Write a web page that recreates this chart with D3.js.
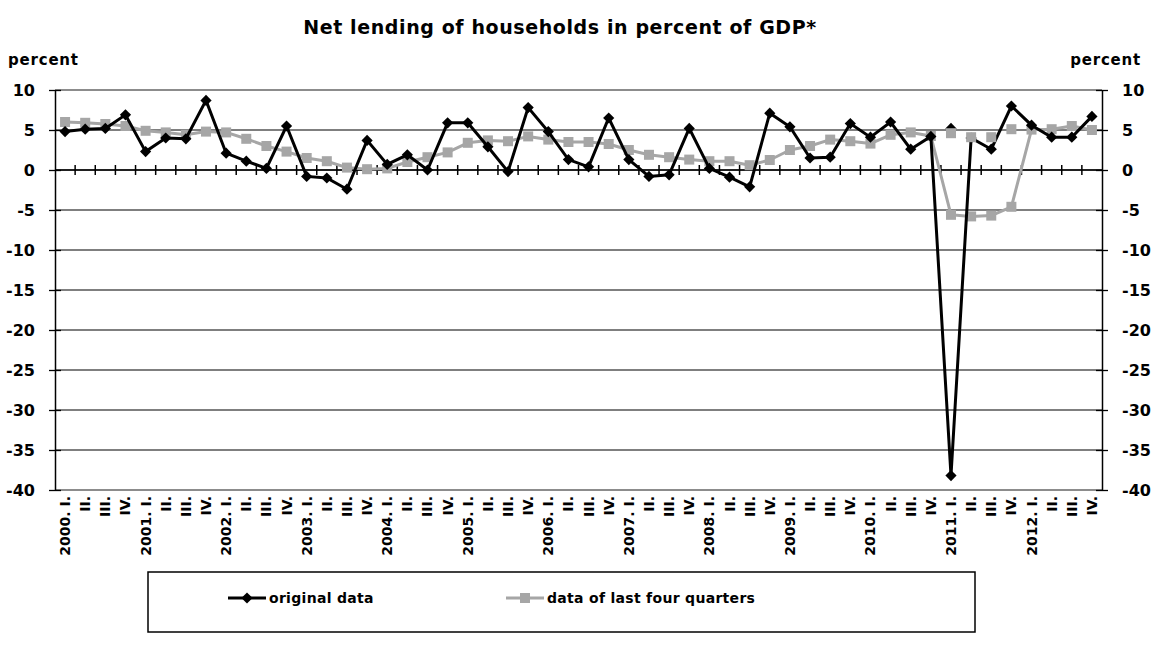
<!DOCTYPE html>
<html>
<head>
<meta charset="utf-8">
<script src="https://cdn.jsdelivr.net/npm/d3@7"></script>
<style>
  html, body { margin: 0; padding: 0; background: #fff; }
  svg { display: block; font-family: "DejaVu Sans", Verdana, sans-serif; font-weight: bold; }
</style>
</head>
<body>
<svg id="chart" width="1155" height="664"></svg>
<script>
// Quarters 2000 Q1 – 2012 Q4
const years = d3.range(2000, 2013);
const quarterNames = ["I.", "II.", "III.", "IV."];
const categories = years.flatMap(y => quarterNames.map((q, i) => i === 0 ? `${y}. ${q}` : q));

// Net lending of households, % of GDP, quarterly
const originalData = [
  4.8, 5.1, 5.2, 6.9, 2.3, 4.0, 3.9, 8.7,
  2.1, 1.1, 0.2, 5.5, -0.8, -1.0, -2.4, 3.7,
  0.7, 1.9, 0.0, 5.9, 5.9, 2.9, -0.2, 7.8,
  4.8, 1.3, 0.4, 6.5, 1.3, -0.8, -0.6, 5.2,
  0.2, -0.9, -2.1, 7.1, 5.4, 1.5, 1.6, 5.8,
  4.1, 6.0, 2.6, 4.2, -38.2, 4.0, 2.6, 8.0,
  5.6, 4.1, 4.1, 6.7
];
// Rolling four-quarter figures
const lastFourQuarters = [
  6.0, 5.9, 5.75, 5.5, 4.9, 4.7, 4.4, 4.8,
  4.7, 3.9, 3.0, 2.3, 1.5, 1.1, 0.3, 0.1,
  0.2, 1.0, 1.6, 2.2, 3.4, 3.7, 3.6, 4.2,
  3.8, 3.5, 3.5, 3.25, 2.5, 1.9, 1.6, 1.3,
  1.1, 1.1, 0.6, 1.25, 2.5, 3.0, 3.8, 3.6,
  3.3, 4.4, 4.7, 4.25, -5.6, -5.8, -5.7, -4.6,
  5.05, 5.1, 5.5, 5.0
];
// Figures without the 2011 one-off pension transfer (markers only)
const adjustedOriginal = [{ q: 44, v: 5.2 }];
const adjustedFourQuarters = [{ q: 44, v: 4.6 }, { q: 45, v: 4.1 }, { q: 46, v: 4.1 }, { q: 47, v: 5.1 }];

const yTicks = d3.range(-40, 11, 5);

const svg = d3.select("#chart");
const plotLeft = 55, plotRight = 1102, plotTop = 90, plotBottom = 490;

const x = d3.scaleBand().domain(d3.range(categories.length)).range([plotLeft, plotRight]);
const cx = i => x(i) + x.bandwidth() / 2;
const y = d3.scaleLinear().domain([-40, 10]).range([plotBottom, plotTop]);

// Title and unit labels
svg.append("text").attr("x", 560).attr("y", 34).attr("text-anchor", "middle")
  .attr("font-size", 19).attr("letter-spacing", 0.6).text("Net lending of households in percent of GDP*");
svg.append("text").attr("x", 8).attr("y", 65).attr("font-size", 15).attr("letter-spacing", 0.8).text("percent");
svg.append("text").attr("x", 1141).attr("y", 65).attr("text-anchor", "end").attr("font-size", 15).attr("letter-spacing", 0.8).text("percent");

// Horizontal gridlines
svg.append("g").selectAll("line").data(yTicks.filter(t => t > -40 && t < 10)).join("line")
  .attr("x1", plotLeft).attr("x2", plotRight).attr("y1", d => y(d)).attr("y2", d => y(d))
  .attr("stroke", "#000").attr("stroke-width", 1.2);
// Plot-area border (top and bottom)
svg.append("g").selectAll("line").data([10, -40]).join("line")
  .attr("x1", plotLeft).attr("x2", plotRight).attr("y1", d => y(d)).attr("y2", d => y(d))
  .attr("stroke", "#8c8c8c").attr("stroke-width", 2);

// Left and right value axes
const axisStyle = g => {
  g.select(".domain").attr("stroke", "#000").attr("stroke-width", 1.5);
  g.selectAll(".tick line").attr("stroke", "#000").attr("stroke-width", 1.3);
  g.selectAll(".tick text").attr("font-size", 16).attr("font-weight", "bold")
    .attr("font-family", "'DejaVu Sans', Verdana, sans-serif").attr("fill", "#000");
};
const tickFmt = d => String(d);
svg.append("g").attr("transform", `translate(${plotLeft},0)`)
  .call(d3.axisLeft(y).tickValues(yTicks).tickFormat(tickFmt).tickSizeInner(6).tickSizeOuter(0).tickPadding(14))
  .call(axisStyle)
  .call(g => g.selectAll(".tick line").attr("x2", 6).attr("x1", -6));
svg.append("g").attr("transform", `translate(${plotRight},0)`)
  .call(d3.axisRight(y).tickValues(yTicks).tickFormat(tickFmt).tickSizeInner(6).tickSizeOuter(0).tickPadding(14))
  .call(axisStyle)
  .call(g => g.selectAll(".tick line").attr("x1", -6).attr("x2", 6));

// Category axis along zero with crossing tick marks
const zeroY = y(0);
svg.append("line").attr("x1", plotLeft).attr("x2", plotRight).attr("y1", zeroY).attr("y2", zeroY)
  .attr("stroke", "#000").attr("stroke-width", 1.5);
svg.append("g").selectAll("line").data(d3.range(1, categories.length)).join("line")
  .attr("x1", d => x(d)).attr("x2", d => x(d))
  .attr("y1", zeroY - 5).attr("y2", zeroY + 5)
  .attr("stroke", "#000").attr("stroke-width", 1.5);

// Category labels, rotated
svg.append("g").selectAll("text").data(categories).join("text")
  .attr("transform", (d, i) => `translate(${cx(i) + 5},496) rotate(-90)`)
  .attr("text-anchor", "end").attr("font-size", 14).text(d => d);

// Series
const line = d3.line().x((d, i) => cx(i)).y(d => y(d));

svg.append("path").datum(lastFourQuarters).attr("d", line)
  .attr("fill", "none").attr("stroke", "#a6a6a6").attr("stroke-width", 3).attr("stroke-linejoin", "round");
svg.append("g").selectAll("rect").data(lastFourQuarters).join("rect")
  .attr("x", (d, i) => cx(i) - 5).attr("y", d => y(d) - 5).attr("width", 10).attr("height", 10)
  .attr("fill", "#a6a6a6");

svg.append("path").datum(originalData).attr("d", line)
  .attr("fill", "none").attr("stroke", "#000").attr("stroke-width", 3).attr("stroke-linejoin", "miter");
const diamond = d3.symbol().type(d3.symbolDiamond2).size(80);
svg.append("g").selectAll("path").data(originalData).join("path")
  .attr("d", diamond).attr("transform", (d, i) => `translate(${cx(i)},${y(d)})`).attr("fill", "#000");

svg.append("g").selectAll("path").data(adjustedOriginal).join("path")
  .attr("d", diamond).attr("transform", d => `translate(${cx(d.q)},${y(d.v)})`).attr("fill", "#000");
svg.append("g").selectAll("rect").data(adjustedFourQuarters).join("rect")
  .attr("x", d => cx(d.q) - 5).attr("y", d => y(d.v) - 5).attr("width", 10).attr("height", 10)
  .attr("fill", "#a6a6a6");

// Legend
const legend = svg.append("g");
legend.append("rect").attr("x", 148).attr("y", 572).attr("width", 827).attr("height", 60)
  .attr("fill", "#fff").attr("stroke", "#000").attr("stroke-width", 1.5);
const items = [
  { label: "original data", color: "#000", x: 228, marker: "diamond" },
  { label: "data of last four quarters", color: "#a6a6a6", x: 506, marker: "square" }
];
items.forEach(it => {
  const g = legend.append("g").attr("transform", `translate(${it.x},598)`);
  g.append("line").attr("x1", 0).attr("x2", 38).attr("stroke", it.color).attr("stroke-width", 3);
  if (it.marker === "diamond") {
    g.append("path").attr("d", diamond).attr("transform", "translate(19,0)").attr("fill", it.color);
  } else {
    g.append("rect").attr("x", 14).attr("y", -5).attr("width", 10).attr("height", 10).attr("fill", it.color);
  }
  g.append("text").attr("x", 41).attr("y", 5).attr("font-size", 14).attr("letter-spacing", 0.3).text(it.label);
});
</script>
</body>
</html>
